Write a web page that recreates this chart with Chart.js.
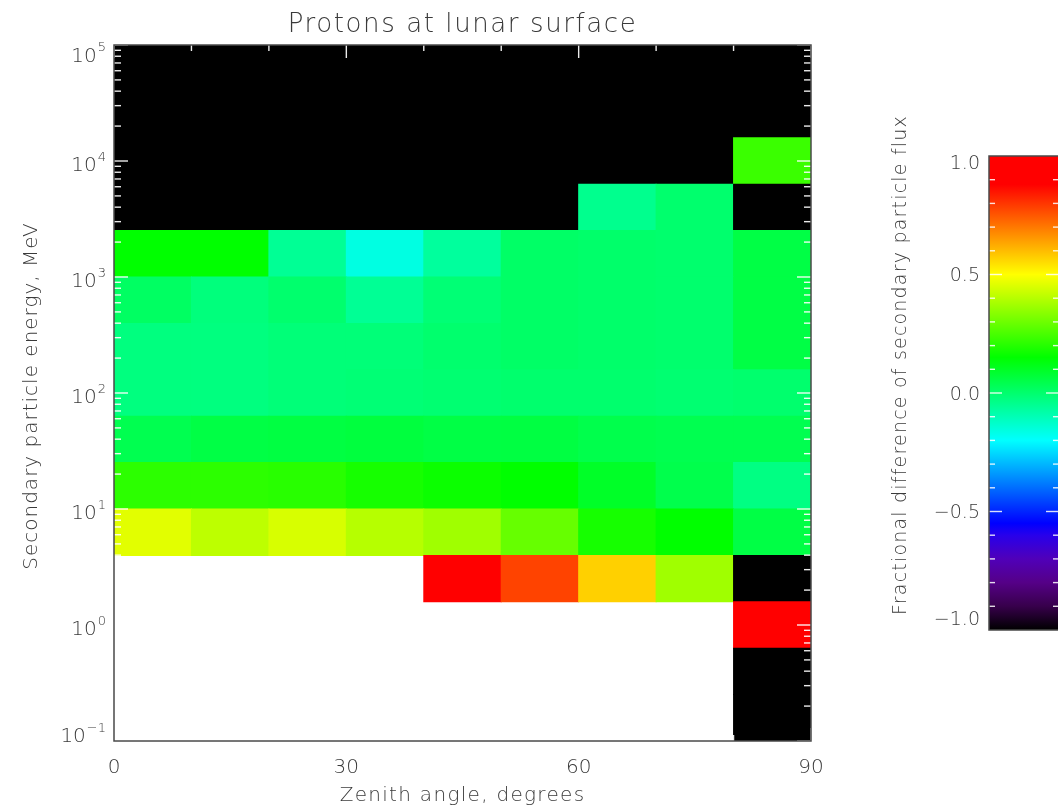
<!DOCTYPE html>
<html>
<head>
<meta charset="utf-8">
<title>Protons at lunar surface</title>
<script src="https://cdn.jsdelivr.net/npm/chart.js@4/dist/chart.umd.min.js"></script>
<style>
  html, body { margin: 0; padding: 0; background: #ffffff; overflow: hidden; }
  #wrap { position: relative; width: 1058px; height: 808px; overflow: hidden; }
  canvas { position: absolute; left: 0; top: 0; }
  #cbar { pointer-events: none; }
</style>
</head>
<body>
<div id="wrap">
  <canvas id="heat" width="1058" height="808"></canvas>
  <canvas id="cbar" width="1060" height="808"></canvas>
</div>
<script>
// Zenith-angle bin edges, degrees
const zenithEdges = [0, 10, 20, 30, 40, 50, 60, 70, 80, 90];
// Secondary energy bin edges, log10(MeV)
const energyExpEdges = [-1.0, -0.6, -0.2, 0.2, 0.6, 1.0, 1.4, 1.8, 2.2, 2.6, 3.0, 3.4, 3.8, 4.2, 4.6, 5.0];

// Fractional difference of secondary proton flux, one value per zenith bin
// (null = no secondaries in that bin)
const diffE00 = [null, null, null, null, null, null, null, null, -1.0];   // 0.10 - 0.25 MeV
const diffE01 = [null, null, null, null, null, null, null, null, -1.0];   // 0.25 - 0.63 MeV
const diffE02 = [null, null, null, null, null, null, null, null, 0.95];   // 0.63 - 1.6 MeV
const diffE03 = [null, null, null, null, 0.95, 0.78, 0.57, 0.37, -1.0];   // 1.6 - 4.0 MeV
const diffE04 = [0.46, 0.41, 0.445, 0.40, 0.37, 0.29, 0.18, 0.15, 0.055]; // 4.0 - 10 MeV
const diffE05 = [0.21, 0.21, 0.205, 0.18, 0.165, 0.15, 0.095, 0.045, -0.03]; // 10 - 25 MeV
const diffE06 = [0.04, 0.055, 0.06, 0.065, 0.055, 0.06, 0.045, 0.04, 0.04]; // 25 - 63 MeV
const diffE07 = [-0.025, -0.025, -0.015, -0.01, -0.005, 0.0, 0.0, -0.005, 0.0]; // 63 - 160 MeV
const diffE08 = [-0.025, -0.025, -0.015, -0.015, 0.0, 0.01, 0.005, 0.0, 0.055]; // 160 - 400 MeV
const diffE09 = [0.015, -0.02, 0.0, -0.055, -0.01, 0.01, 0.005, 0.0, 0.055]; // 0.4 - 1 GeV
const diffE10 = [0.15, 0.15, -0.055, -0.16, -0.065, 0.01, 0.005, 0.0, 0.055]; // 1 - 2.5 GeV
const diffE11 = [-1.0, -1.0, -1.0, -1.0, -1.0, -1.0, -0.045, 0.0, -1.0];   // 2.5 - 6.3 GeV
const diffE12 = [-1.0, -1.0, -1.0, -1.0, -1.0, -1.0, -1.0, -1.0, 0.23];    // 6.3 - 16 GeV
const diffE13 = [-1.0, -1.0, -1.0, -1.0, -1.0, -1.0, -1.0, -1.0, -1.0];    // 16 - 40 GeV
const diffE14 = [-1.0, -1.0, -1.0, -1.0, -1.0, -1.0, -1.0, -1.0, -1.0];    // 40 - 100 GeV
const fracDiff = [diffE00, diffE01, diffE02, diffE03, diffE04, diffE05, diffE06,
                  diffE07, diffE08, diffE09, diffE10, diffE11, diffE12, diffE13, diffE14];

// Axis ticks
const xTickValues = [0, 30, 60, 90];
const xTickLabels = ['0', '30', '60', '90'];
const xMinorStep = 10;
const yDecades = [-1, 0, 1, 2, 3, 4, 5];
const yExpLabels = ['\u22121', '0', '1', '2', '3', '4', '5'];

// Colour bar
const cbRange = [-1.0, 1.0];
const cbTickValues = [-1.0, -0.5, 0.0, 0.5, 1.0];
const cbTickLabels = ['\u22121.0', '\u22120.5', '0.0', '0.5', '1.0'];
const cbMinorStep = 0.1;

// Rainbow + black colour table: [value, [r, g, b]]
const cmapStops = [
  [-1.00, [0, 0, 0]],
  [-0.90, [55, 0, 75]],
  [-0.80, [85, 0, 135]],
  [-0.70, [80, 0, 185]],
  [-0.60, [40, 0, 235]],
  [-0.55, [0, 0, 255]],
  [-0.20, [0, 255, 255]],
  [0.15, [0, 255, 0]],
  [0.50, [255, 255, 0]],
  [0.88, [255, 0, 0]],
  [1.00, [255, 0, 0]]
];

const FONT_FAMILY = '"DejaVu Sans", "Liberation Sans", sans-serif';
const TEXT_COLOR = '#3a3a3a';

function colorFor(v) {
  const c = Math.max(cbRange[0], Math.min(cbRange[1], v));
  for (let i = 0; i < cmapStops.length - 1; i++) {
    const [v0, c0] = cmapStops[i];
    const [v1, c1] = cmapStops[i + 1];
    if (c >= v0 && c <= v1) {
      const t = v1 === v0 ? 0 : (c - v0) / (v1 - v0);
      const rgb = c0.map((k, n) => Math.round(k + (c1[n] - k) * t));
      return `rgb(${rgb[0]},${rgb[1]},${rgb[2]})`;
    }
  }
  return 'rgb(255,0,0)';
}

function setFont(ctx, size, spacing) {
  ctx.font = `200 ${size}px ${FONT_FAMILY}`;
  if ('letterSpacing' in ctx) ctx.letterSpacing = (spacing || 0) + 'px';
}

function text(ctx, str, x, y, opts) {
  const o = Object.assign({size: 20, spacing: 0, align: 'left', rotate: 0}, opts);
  ctx.save();
  setFont(ctx, o.size, o.spacing);
  ctx.fillStyle = TEXT_COLOR;
  ctx.textAlign = o.align;
  ctx.textBaseline = 'alphabetic';
  ctx.translate(x, y);
  if (o.rotate) ctx.rotate(o.rotate);
  ctx.fillText(str, 0, 0);
  ctx.restore();
}

function measure(ctx, str, size, spacing) {
  ctx.save();
  setFont(ctx, size, spacing);
  const w = ctx.measureText(str).width;
  ctx.restore();
  return w;
}

function seg(ctx, x0, y0, x1, y1) {
  ctx.beginPath();
  ctx.moveTo(x0, y0);
  ctx.lineTo(x1, y1);
  ctx.stroke();
}

// Heat-map cells as floating bars: one dataset per energy bin
const datasets = fracDiff.map((row, i) => {
  const lo = Math.pow(10, energyExpEdges[i]);
  const hi = Math.pow(10, energyExpEdges[i + 1]);
  const pts = [];
  const cols = [];
  row.forEach((v, j) => {
    if (v === null) return;
    pts.push({x: (zenithEdges[j] + zenithEdges[j + 1]) / 2, y: [lo, hi]});
    cols.push(colorFor(v));
  });
  return {
    data: pts,
    backgroundColor: cols,
    borderWidth: 0,
    inflateAmount: 0.5,
    barPercentage: 1,
    categoryPercentage: 1,
    grouped: false
  };
});

// Axes box, inward white ticks, tick labels and titles
const heatFrame = {
  id: 'heatFrame',
  afterDatasetsDraw(chart) {
    const {ctx, chartArea: a, scales: {x, y}} = chart;
    ctx.save();
    ctx.strokeStyle = 'rgba(255,255,255,0.92)';
    ctx.lineWidth = 1.4;
    for (let v = zenithEdges[0]; v <= zenithEdges[zenithEdges.length - 1]; v += xMinorStep) {
      const px = x.getPixelForValue(v);
      const len = xTickValues.includes(v) ? 13 : 6;
      seg(ctx, px, a.top, px, a.top + len);
      seg(ctx, px, a.bottom, px, a.bottom - len);
    }
    const yMax = Math.pow(10, yDecades[yDecades.length - 1]);
    yDecades.forEach(d => {
      for (let m = 1; m <= 9; m++) {
        const val = m * Math.pow(10, d);
        if (val > yMax * 1.0001) break;
        const py = y.getPixelForValue(val);
        const len = m === 1 ? 14 : 7;
        seg(ctx, a.left, py, a.left + len, py);
        seg(ctx, a.right, py, a.right - len, py);
      }
    });
    ctx.strokeStyle = '#4a4a4a';
    ctx.lineWidth = 1.5;
    ctx.strokeRect(a.left, a.top, a.right - a.left, a.bottom - a.top);
    ctx.restore();

    // x tick labels
    xTickValues.forEach((v, i) => {
      text(ctx, xTickLabels[i], x.getPixelForValue(v), a.bottom + 32, {size: 20, align: 'center'});
    });
    // y tick labels: 10 with raised exponent
    const baseSize = 20, expSize = 13, cap = 0.73 * baseSize, raise = 5;
    const rightEdge = a.left - 8;
    yDecades.forEach((d, i) => {
      const py = y.getPixelForValue(Math.pow(10, d));
      const blockH = cap + raise;
      let top = py - blockH / 2;
      top = Math.max(a.top - 3, Math.min(a.bottom + 1 - blockH, top));
      const expW = measure(ctx, yExpLabels[i], expSize, 0);
      text(ctx, yExpLabels[i], rightEdge - expW, top + 0.73 * expSize, {size: expSize});
      text(ctx, '10', rightEdge - expW - 1, top + raise + cap, {size: baseSize, align: 'right'});
    });
    // titles
    const cx = (a.left + a.right) / 2;
    text(ctx, 'Protons at lunar surface', cx, 32, {size: 26, spacing: 1.6, align: 'center'});
    text(ctx, 'Zenith angle, degrees', cx, 801, {size: 20, spacing: 1.3, align: 'center'});
    text(ctx, 'Secondary particle energy, MeV', 37, (a.top + a.bottom) / 2 + 3,
         {size: 20, spacing: 1.0, align: 'center', rotate: -Math.PI / 2});
  }
};

new Chart(document.getElementById('heat'), {
  type: 'bar',
  data: {datasets},
  options: {
    responsive: false,
    animation: false,
    devicePixelRatio: 1,
    layout: {padding: {left: 114, top: 45, right: 247, bottom: 67}},
    plugins: {legend: {display: false}, tooltip: {enabled: false}, title: {display: false}},
    scales: {
      x: {
        type: 'linear', display: false, offset: false,
        min: zenithEdges[0], max: zenithEdges[zenithEdges.length - 1],
        ticks: {stepSize: xMinorStep}
      },
      y: {
        type: 'logarithmic', display: false,
        min: Math.pow(10, energyExpEdges[0]),
        max: Math.pow(10, energyExpEdges[energyExpEdges.length - 1])
      }
    }
  },
  plugins: [heatFrame]
});

// Colour bar: one floating bar spanning the full range, filled by the colour table
function cbarFill(c) {
  const chart = c.chart;
  const ys = chart.scales && chart.scales.y;
  if (!chart.chartArea || !ys) return 'rgba(0,0,0,0)';
  const y0 = ys.getPixelForValue(cbRange[0]);
  const y1 = ys.getPixelForValue(cbRange[1]);
  const g = chart.ctx.createLinearGradient(0, y0, 0, y1);
  cmapStops.forEach(([v, rgb]) => {
    const t = (v - cbRange[0]) / (cbRange[1] - cbRange[0]);
    g.addColorStop(t, `rgb(${rgb[0]},${rgb[1]},${rgb[2]})`);
  });
  return g;
}

const cbarFrame = {
  id: 'cbarFrame',
  afterDatasetsDraw(chart) {
    const {ctx, chartArea: a, scales: {y}} = chart;
    ctx.save();
    ctx.strokeStyle = 'rgba(255,255,255,0.85)';
    ctx.lineWidth = 1.4;
    const nSteps = Math.round((cbRange[1] - cbRange[0]) / cbMinorStep);
    for (let k = 1; k < nSteps; k++) {
      const v = cbRange[0] + k * cbMinorStep;
      const py = y.getPixelForValue(v);
      const major = cbTickValues.some(t => Math.abs(t - v) < 1e-6);
      const len = major ? 13 : 6;
      seg(ctx, a.left, py, a.left + len, py);
      seg(ctx, a.right, py, a.right - len, py);
    }
    ctx.strokeStyle = '#4a4a4a';
    ctx.lineWidth = 1.5;
    ctx.strokeRect(a.left, a.top, a.right - a.left, a.bottom - a.top);
    ctx.restore();

    const size = 19, cap = 0.73 * size;
    cbTickValues.forEach((v, i) => {
      const py = y.getPixelForValue(v);
      let top = py - cap / 2;
      top = Math.max(a.top - 1, Math.min(a.bottom - 5 - cap, top));
      text(ctx, cbTickLabels[i], a.left - 9, top + cap, {size, align: 'right'});
    });
    text(ctx, 'Fractional difference of secondary particle flux', 906, 365,
         {size: 19, spacing: 1.2, align: 'center', rotate: -Math.PI / 2});
  }
};

new Chart(document.getElementById('cbar'), {
  type: 'bar',
  data: {
    labels: [''],
    datasets: [{
      data: [cbRange],
      backgroundColor: cbarFill,
      borderWidth: 0,
      barPercentage: 1,
      categoryPercentage: 1
    }]
  },
  options: {
    responsive: false,
    animation: false,
    devicePixelRatio: 1,
    layout: {padding: {left: 989, top: 156, right: 1, bottom: 178}},
    plugins: {legend: {display: false}, tooltip: {enabled: false}, title: {display: false}},
    scales: {
      x: {type: 'category', display: false, offset: true},
      y: {type: 'linear', display: false, min: cbRange[0], max: cbRange[1]}
    }
  },
  plugins: [cbarFrame]
});
</script>
</body>
</html>
